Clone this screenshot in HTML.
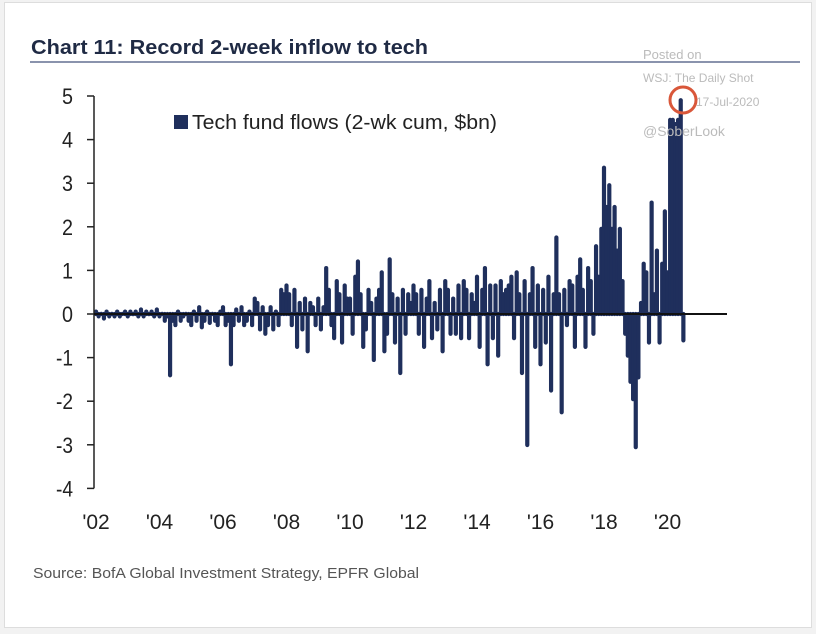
<!DOCTYPE html>
<html><head><meta charset="utf-8"><style>
body{margin:0;background:#f2f2f2;}
#wrap{position:absolute;left:4px;top:2px;width:806px;height:624px;background:#fff;border:1px solid #ddd;}
svg{position:absolute;left:0;top:0;}
</style></head><body>
<div id="wrap"></div>
<svg id="chart" width="816" height="634">
<text x="31" y="54" font-family="Liberation Sans, sans-serif" font-weight="bold" font-size="20" fill="#1f2a44" textLength="397" lengthAdjust="spacingAndGlyphs">Chart 11: Record 2-week inflow to tech</text>
<line x1="30" y1="62" x2="800" y2="62" stroke="#8a93ad" stroke-width="2"/>
<g id="bars"></g>
<g id="yaxis"></g>
<g id="xaxis"></g>
<rect x="174" y="115" width="14" height="14" fill="#1f2f5c"/>
<text x="192" y="129" font-family="Liberation Sans, sans-serif" font-size="20" fill="#222" textLength="305" lengthAdjust="spacingAndGlyphs">Tech fund flows (2-wk cum, $bn)</text>
<text x="643" y="59" font-family="Liberation Sans, sans-serif" font-size="13" fill="#bbb">Posted on</text>
<text x="643" y="82" font-family="Liberation Sans, sans-serif" font-size="12" fill="#bbb">WSJ: The Daily Shot</text>
<text x="696" y="106" font-family="Liberation Sans, sans-serif" font-size="12" fill="#bbb">17-Jul-2020</text>
<text x="643" y="136" font-family="Liberation Sans, sans-serif" font-size="14" fill="#bbb">@SoberLook</text>
<circle cx="683" cy="100" r="13" fill="none" stroke="#d9573a" stroke-width="3"/>
<text x="33" y="578" font-family="Liberation Sans, sans-serif" font-size="15" fill="#555" textLength="386" lengthAdjust="spacingAndGlyphs">Source: BofA Global Investment Strategy, EPFR Global</text>
</svg>
<script>
const values=[
0.1,-0.1,0.05,-0.15,0.1,-0.1,0.05,-0.1,0.1,-0.1,0.05,0.1,
-0.1,0.1,-0.05,0.1,-0.1,0.15,-0.1,0.1,-0.05,0.1,-0.1,0.15,
-0.1,0.05,-0.2,-0.1,-1.45,-0.2,-0.3,0.1,-0.2,-0.1,0.05,-0.2,
-0.3,0.1,-0.2,0.2,-0.35,-0.2,0.1,-0.25,0.05,-0.2,-0.3,0.1,
0.2,-0.3,-0.2,-1.2,-0.3,0.15,-0.2,0.2,-0.3,-0.2,0.1,-0.3,
0.4,0.3,-0.4,0.2,-0.5,-0.3,0.2,-0.4,0.1,-0.3,0.6,0.5,
0.7,0.5,-0.3,0.6,-0.8,0.3,-0.4,0.4,-0.9,0.3,0.2,-0.3,
0.4,-0.4,0.2,1.1,0.6,-0.3,-0.6,0.8,0.5,-0.7,0.7,0.4,
0.4,-0.5,0.9,1.25,0.5,-0.8,-0.4,0.6,0.3,-1.1,0.4,0.6,
1.0,-0.9,-0.5,1.3,0.5,-0.7,0.4,-1.4,0.6,-0.5,0.5,0.3,
0.7,0.5,-0.5,0.6,-0.8,0.4,0.8,-0.6,0.3,-0.4,0.6,-0.9,
0.8,0.6,-0.5,0.4,-0.5,0.7,-0.6,0.8,0.6,-0.6,0.5,0.3,
0.9,-0.8,0.6,1.1,-1.2,0.7,-0.6,0.7,-1.0,0.8,0.5,0.6,
0.7,0.9,-0.6,1.0,0.5,-1.4,0.8,-3.05,0.5,1.1,-0.8,0.7,
-1.2,0.6,-0.7,0.9,-1.8,0.5,1.8,0.5,-2.3,0.6,-0.3,0.8,
0.7,-0.8,0.9,1.3,0.6,-0.8,1.1,0.8,-0.5,1.6,0.9,2.0,
3.4,2.5,3.0,2.0,2.5,1.5,2.0,0.8,-0.5,-1.0,-1.6,-2.0,
-3.1,-1.5,0.3,1.2,1.0,-0.7,2.6,0.5,1.5,-0.7,1.2,2.4,
1.0,4.5,4.5,4.4,4.5,4.95,-0.65];
const startYear=2002, perYear=12;
const yTicks=[5,4,3,2,1,0,-1,-2,-3,-4];
const xTickYears=[2002,2004,2006,2008,2010,2012,2014,2016,2018,2020];
const xTickLabels=["'02","'04","'06","'08","'10","'12","'14","'16","'18","'20"];
const NS='http://www.w3.org/2000/svg';
const y=v=>314-v*43.6;
const x=yr=>94+(yr-2002)*31.75;
const bars=document.getElementById('bars');
values.forEach((v,i)=>{
  const r=document.createElementNS(NS,'line');
  const xc=x(startYear+i/perYear)+2;
  r.setAttribute('x1',xc);
  r.setAttribute('x2',xc);
  r.setAttribute('y1',y(0));
  r.setAttribute('y2',v>=0?Math.min(y(0),y(v)+2):Math.max(y(0),y(v)-2));
  r.setAttribute('stroke','#1f2f5c');
  r.setAttribute('stroke-width',4.2);
  r.setAttribute('stroke-linecap','round');
  
  
  bars.appendChild(r);
});
const ya=document.getElementById('yaxis');
function el(tag,attrs,parent,text){const e=document.createElementNS(NS,tag);for(const k in attrs)e.setAttribute(k,attrs[k]);if(text!==undefined)e.textContent=text;parent.appendChild(e);return e;}
const axl=el('line',{x1:94,x2:94,y1:y(5),y2:y(-4),stroke:'#222','stroke-width':1.5},ya);


yTicks.forEach(t=>{
  const tk=el('line',{x1:87,x2:94,y1:y(t),y2:y(t),stroke:'#222','stroke-width':1.5},ya);
  
  
  const s=String(t);
  const lb=el('text',{x:73,y:y(t)+8,'text-anchor':'end','font-family':'Liberation Sans, sans-serif','font-size':22,fill:'#222',textLength:s.length>1?17:11,lengthAdjust:'spacingAndGlyphs'},ya,s);
  
  
});
const zl=el('line',{x1:94,x2:727,y1:y(0),y2:y(0),stroke:'#111','stroke-width':2},ya);


const xa=document.getElementById('xaxis');
xTickYears.forEach((yr,i)=>{
  const lb=el('text',{x:x(yr)+2,y:529,'text-anchor':'middle','font-family':'Liberation Sans, sans-serif','font-size':21,fill:'#222'},xa,xTickLabels[i]);
  
  
});
</script>
</body></html>
